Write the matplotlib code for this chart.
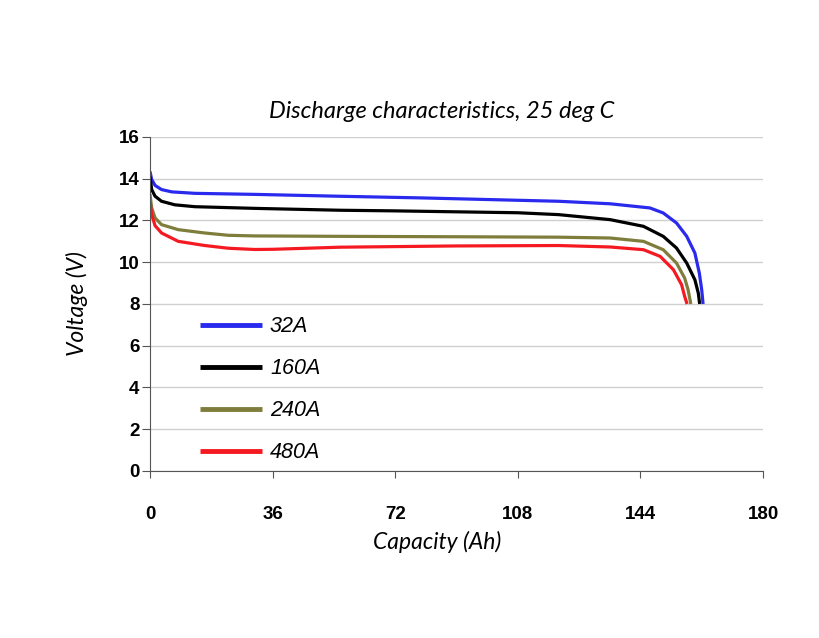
import matplotlib.pyplot as plt
import numpy as np

# capacity (Ah) / voltage (V)
cap_32 = [0, 0.5, 1.5, 3.4, 6.4, 13.2, 30.8, 55.8, 80, 100, 120, 135.1, 146.8, 150.7, 154.6,
          157.6, 160, 161.3, 162, 162.4]
v_32 = [14.35, 13.96, 13.68, 13.48, 13.37, 13.3, 13.25, 13.16, 13.08, 13.0, 12.92, 12.8, 12.6, 12.36, 11.88,
        11.24, 10.44, 9.48, 8.68, 8.0]

cap_160 = [0, 0.5, 1.5, 3.4, 7.3, 13.2, 30.8, 55.8, 72, 108, 120, 135.1, 144.9, 150.7, 154.6,
           157.6, 160, 161, 161.4]
v_160 = [14.1, 13.48, 13.16, 12.92, 12.75, 12.66, 12.58, 12.49, 12.46, 12.37, 12.28, 12.04, 11.72, 11.24, 10.68,
         9.96, 9.16, 8.52, 8.0]

cap_240 = [0, 0.5, 1.5, 3.4, 8.3, 16.1, 23, 30.8, 55.8, 90, 120, 135.1, 144.9, 150.7, 154.6,
           157, 158, 158.8]
v_240 = [13.27, 12.6, 12.12, 11.8, 11.56, 11.4, 11.29, 11.26, 11.24, 11.22, 11.2, 11.16, 11.0, 10.6, 9.96,
         9.24, 8.68, 8.0]

cap_480 = [0, 0.5, 1.5, 3.4, 8.3, 16.1, 23, 30.8, 36.2, 55.8, 90, 120, 135.1, 144.9, 149.8,
           153.7, 156.1, 157, 157.7]
v_480 = [12.92, 12.28, 11.75, 11.4, 11.0, 10.8, 10.67, 10.61, 10.62, 10.72, 10.78, 10.8, 10.73, 10.6, 10.28,
         9.64, 8.92, 8.36, 8.0]

labels = ['32A', '160A', '240A', '480A']
colors = ['#2a2aee', '#000000', '#7f7d3c', '#f51a22']

xticks = [0, 36, 72, 108, 144, 180]
yticks = [0, 2, 4, 6, 8, 10, 12, 14, 16]

tickfont = {'family': ['Liberation Sans Narrow', 'Liberation Sans', 'DejaVu Sans'], 'weight': 'bold', 'size': 13.5}

fig = plt.figure(figsize=(8.2, 6.38), dpi=100)
ax = fig.add_axes([0.1829, 0.2618, 0.7476, 0.5235])

for c, v, lab, col in zip([cap_32, cap_160, cap_240, cap_480], [v_32, v_160, v_240, v_480], labels, colors):
    ax.plot(c, v, color=col, lw=2.3, label=lab, solid_capstyle='butt', solid_joinstyle='round')

ax.set_xlim(0, 180)
ax.set_ylim(0, 16)
ax.set_xticks(xticks)
ax.set_yticks(yticks)
ax.set_xticklabels([str(t) for t in xticks], fontdict=tickfont)
ax.set_yticklabels([str(t) for t in yticks], fontdict=tickfont)
ax.tick_params(axis='x', direction='out', length=5, pad=20, color='#555555')
ax.tick_params(axis='y', direction='out', length=6, pad=1.5, color='#555555')
ax.grid(axis='y', color='#d0d0d0', lw=1)
ax.set_axisbelow(True)
for s in ['top', 'right']:
    ax.spines[s].set_visible(False)
ax.spines['left'].set_color('#555555')
ax.spines['bottom'].set_color('#555555')

ax.set_xlabel('Capacity (Ah)', fontfamily='Lato', fontstyle='italic', fontsize=16.5)
ax.xaxis.set_label_coords(0.468, -0.178)
ax.set_ylabel('Voltage (V)', fontfamily='Lato', fontstyle='italic', fontsize=16.5, labelpad=22)

fig.text(0.539, 0.8245, 'Discharge characteristics, 25 deg C', fontfamily='Lato', fontstyle='italic',
         fontsize=17, ha='center', va='center')

leg = ax.legend(loc='center left', bbox_to_anchor=(0.0816, 0.243), frameon=False, borderaxespad=0,
                borderpad=0, handlelength=2.9, handletextpad=0.35, labelspacing=0.97,
                prop={'family': ['Liberation Sans', 'DejaVu Sans'], 'style': 'italic', 'size': 15.5})
for h in leg.legend_handles:
    h.set_linewidth(3.5)

fig.savefig('out.png', dpi=100, facecolor='white')
